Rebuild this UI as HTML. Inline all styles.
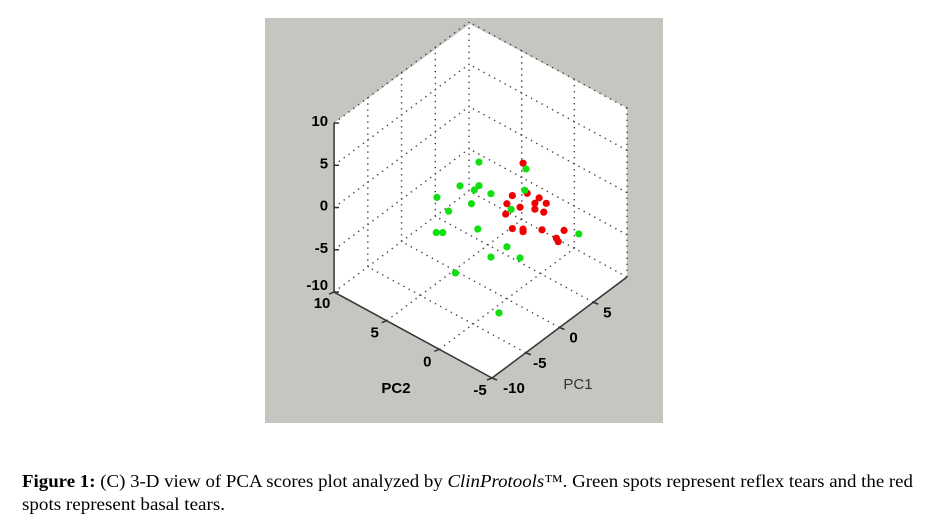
<!DOCTYPE html>
<html><head><meta charset="utf-8"><style>
html,body{margin:0;padding:0;background:#fff;}
svg{display:block;}
</style></head><body>
<svg id="fig" width="931" height="517" viewBox="0 0 931 517" xmlns="http://www.w3.org/2000/svg">
<rect x="265" y="18" width="398" height="405" fill="#c6c6c0"/>
<polygon points="470,24 627,108 627,277 492,378 334,292 334,123" fill="#fff"/>
<g id="grid"></g>
<g id="axes"></g>
<g id="pts"></g>
<text x="396" y="393" font-family="Liberation Sans, sans-serif" font-size="15" font-weight="bold" text-anchor="middle">PC2</text>
<text x="578" y="389" font-family="Liberation Sans, sans-serif" font-size="15" fill="#333" text-anchor="middle">PC1</text>
<text x="22" y="487" font-family="Liberation Serif, serif" font-size="18" textLength="891" lengthAdjust="spacingAndGlyphs"><tspan font-weight="bold">Figure 1:</tspan> (C) 3-D view of PCA scores plot analyzed by <tspan font-style="italic">ClinProtools</tspan>™. Green spots represent reflex tears and the red</text>
<text x="22" y="510" font-family="Liberation Serif, serif" font-size="18" textLength="203" lengthAdjust="spacingAndGlyphs">spots represent basal tears.</text>
</svg>
<script>
const greenPC1=[-0.1,3.1,-1.4,-0.1,-0.4,3.0,0.7,-3.0,-0.6,-2.2,2.1,-0.2,-3.0,-2.6,6.7,1.8,0.7,2.7,-1.7,-2.1];
const greenPC2=[2.58,0.17,3.55,2.58,2.83,0.22,1.96,4.72,2.98,4.12,0.94,2.63,4.78,4.42,-2.54,1.15,1.96,0.48,3.8,-0.6];
const greenPC3=[4.5,3.4,1.8,1.7,1.2,0.9,0.7,0.6,-0.4,-1.1,-1.3,-3.4,-3.6,-3.6,-4.6,-5.7,-6.8,-7.1,-8.5,-10];
const redPC1=[2.9,3.2,2.2,1.8,2.7,4.0,3.7,4.5,3.7,4.3,1.7,2.2,2.9,2.9,4.2,5.7,5.2,5.3];
const redPC2=[0.32,0.12,0.89,1.15,0.48,-0.5,-0.29,-0.86,-0.29,-0.75,1.2,0.89,0.32,0.32,-0.65,-1.78,-1.37,-1.48];
const redPC3=[4.1,0.5,0.3,-0.6,-1.1,-0.1,-0.7,-0.8,-1.4,-1.8,-1.8,-3.6,-3.7,-4.0,-3.9,-4.1,-5.0,-5.4];
const pc1Ticks=[-10,-5,0,5];
const pc2Ticks=[-5,0,5,10];
const pc3Ticks=[-10,-5,0,5,10];

const NS="http://www.w3.org/2000/svg";
function P(p1,p2,z){
  const a=p1+10,b=p2+5,c=z+10;
  return [492+a*6.75-b*10.53, 378-a*5.05-b*5.73-c*8.45];
}
function line(g,A,B,dotted,name){
  const l=document.createElementNS(NS,'line');
  l.setAttribute('x1',A[0]);l.setAttribute('y1',A[1]);l.setAttribute('x2',B[0]);l.setAttribute('y2',B[1]);
  l.setAttribute('stroke',dotted?'#444':'#333');
  l.setAttribute('stroke-width',dotted?'1.4':'1.5');
  if(dotted)l.setAttribute('stroke-dasharray','1.4 4.6');
  
  
  g.appendChild(l);
}
function txt(g,x,y,s,anchor,name){
  const t=document.createElementNS(NS,'text');
  t.setAttribute('x',x);t.setAttribute('y',y);
  t.setAttribute('font-family','Liberation Sans, sans-serif');
  t.setAttribute('font-size','15');
  t.setAttribute('font-weight','bold');
  t.setAttribute('text-anchor',anchor);
  t.textContent=s;
  
  
  g.appendChild(t);
}
const grid=document.getElementById('grid');
[-5,0,5].forEach(v=>line(grid,P(v,-5,-10),P(v,10,-10),true,'floor-gridline-pc1'));
[0,5].forEach(v=>line(grid,P(-10,v,-10),P(10,v,-10),true,'floor-gridline-pc2'));
line(grid,P(-10,10,-10),P(10,10,-10),true,'floor-back-edge');
line(grid,P(10,-5,-10),P(10,10,-10),true,'floor-back-edge');
[-5,0,5].forEach(v=>line(grid,P(v,10,-10),P(v,10,10),true,'wall-gridline-pc1'));
[-5,0,5].forEach(v=>line(grid,P(-10,10,v),P(10,10,v),true,'wall-gridline-pc3'));
[0,5].forEach(v=>line(grid,P(10,v,-10),P(10,v,10),true,'wall-gridline-pc2'));
[-5,0,5].forEach(v=>line(grid,P(10,-5,v),P(10,10,v),true,'wall-gridline-pc3'));
line(grid,P(10,10,-10),P(10,10,10),true,'back-vertical-edge');
line(grid,P(-10,10,10),P(10,10,10),true,'top-edge');
line(grid,P(10,-5,10),P(10,10,10),true,'top-edge');
line(grid,P(10,-5,-10),P(10,-5,10),true,'right-edge');

const axes=document.getElementById('axes');
line(axes,P(-10,10,-10),P(-10,10,10),false,'pc3-axis');
line(axes,P(-10,10,-10),P(-10,-5,-10),false,'pc2-axis');
line(axes,P(-10,-5,-10),P(10,-5,-10),false,'pc1-axis');
pc3Ticks.forEach(v=>{const p=P(-10,10,v);line(axes,p,[p[0]+5,p[1]],false,'pc3-tick');txt(axes,p[0]-6,p[1]+(v===-10?-2:3),String(v),'end','pc3-tick-label');});
pc2Ticks.forEach(v=>{const p=P(-10,v,-10);line(axes,p,[p[0]-5,p[1]+2],false,'pc2-tick');txt(axes,p[0]-12,p[1]+(v===10?16:17),String(v),'middle','pc2-tick-label');});
pc1Ticks.forEach(v=>{const p=P(v,-5,-10);line(axes,p,[p[0]+5,p[1]+2],false,'pc1-tick');txt(axes,p[0]+(v===-10?22:14),p[1]+15,String(v),'middle','pc1-tick-label');});

const pts=document.getElementById('pts');
function dot(p,color,name){
  const c=document.createElementNS(NS,'circle');
  c.setAttribute('cx',p[0]);c.setAttribute('cy',p[1]);c.setAttribute('r','3.6');c.setAttribute('fill',color);
  
  
  pts.appendChild(c);
}
redPC1.forEach((v,i)=>dot(P(v,redPC2[i],redPC3[i]),'#f00000','basal-tear-point'));
greenPC1.forEach((v,i)=>dot(P(v,greenPC2[i],greenPC3[i]),'#10e010','reflex-tear-point'));
</script>
</body></html>
